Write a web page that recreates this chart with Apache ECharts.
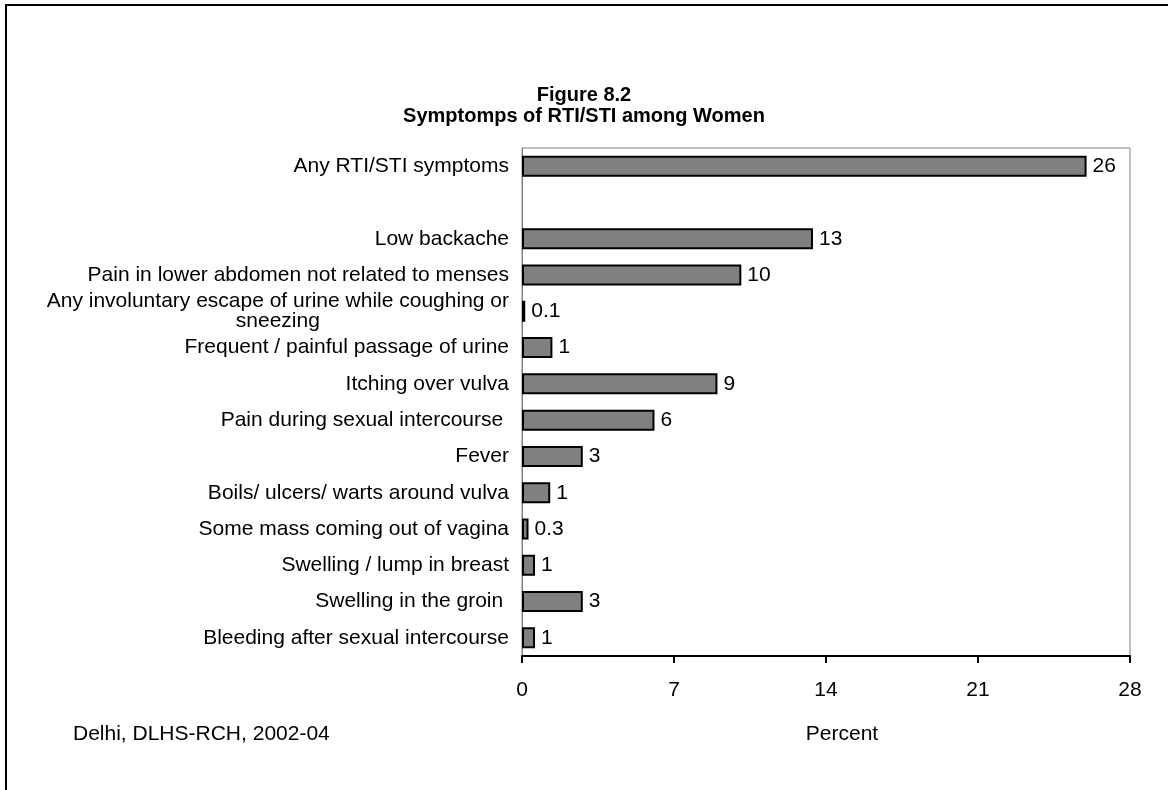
<!DOCTYPE html>
<html>
<head>
<meta charset="utf-8">
<script src="https://cdn.jsdelivr.net/npm/echarts@6/dist/echarts.min.js"></script>
<style>
html,body{margin:0;padding:0;background:#fff;}
#chart{width:1168px;height:790px;}
</style>
</head>
<body>
<div id="chart"></div>
<script>
var categories = [
  'Any RTI/STI symptoms',
  '',
  'Low backache',
  'Pain in lower abdomen not related to menses',
  'Any involuntary escape of urine while coughing or sneezing',
  'Frequent / painful passage of urine',
  'Itching over vulva',
  'Pain during sexual intercourse ',
  'Fever',
  'Boils/ ulcers/ warts around vulva',
  'Some mass coming out of vagina',
  'Swelling / lump in breast',
  'Swelling in the groin ',
  'Bleeding after sexual intercourse'
];
var values = [26, null, 13.4, 10.1, 0.15, 1.4, 9.0, 6.1, 2.8, 1.3, 0.3, 0.6, 2.8, 0.6];
var valueLabels = ['26', '', '13', '10', '0.1', '1', '9', '6', '3', '1', '0.3', '1', '3', '1'];
var xTicks = [0, 7, 14, 21, 28];

var FONT = '"Liberation Sans", Arial, sans-serif';
var chart = echarts.init(document.getElementById('chart'), null, {renderer: 'canvas'});

var option = {
  backgroundColor: '#ffffff',
  animation: false,
  grid: {
    left: 522, right: 38, top: 148, bottom: 134,
    show: true, borderColor: '#808080', borderWidth: 1, backgroundColor: 'transparent'
  },
  xAxis: {
    type: 'value',
    min: xTicks[0],
    max: xTicks[xTicks.length - 1],
    interval: 7,
    splitLine: {show: false},
    axisLine: {show: true, lineStyle: {color: '#000', width: 2}},
    axisTick: {show: true, inside: false, length: 7, lineStyle: {color: '#000', width: 2}},
    axisLabel: {show: true, margin: 24, color: '#000', fontSize: 21, fontFamily: FONT}
  },
  yAxis: {
    type: 'category',
    inverse: true,
    data: categories,
    axisLine: {show: true, lineStyle: {color: '#808080', width: 1}},
    axisTick: {show: false},
    axisLabel: {
      margin: 13,
      color: '#000',
      fontSize: 21,
      fontFamily: FONT,
      lineHeight: 20,
      interval: 0,
      formatter: function (v) {
        var key = ' sneezing';
        if (v.indexOf(key) > 0 && v.length > 50) {
          return '{a|' + v.slice(0, v.length - key.length) + '}\n{b|sneezing}';
        }
        return v;
      },
      rich: {
        a: {fontSize: 21, fontFamily: FONT, color: '#000', lineHeight: 20},
        b: {fontSize: 21, fontFamily: FONT, color: '#000', lineHeight: 20, align: 'center'}
      }
    }
  },
  series: [{
    type: 'bar',
    data: values,
    barWidth: 21,
    itemStyle: {color: '#808080', borderColor: '#000', borderWidth: 2},
    label: {
      show: true,
      position: 'right',
      distance: 6,
      color: '#000',
      fontSize: 21,
      fontFamily: FONT,
      formatter: function (p) { return valueLabels[p.dataIndex]; }
    }
  }],
  graphic: [
    {
      type: 'rect', silent: true,
      shape: {x: 6, y: 5, width: 1300, height: 1000},
      style: {fill: 'none', stroke: '#000', lineWidth: 2}
    },
    {
      type: 'text', x: 584, y: 95,
      style: {text: 'Figure 8.2', font: 'bold 20px ' + FONT, fill: '#000',
        textAlign: 'center', textVerticalAlign: 'middle', align: 'center', verticalAlign: 'middle'}
    },
    {
      type: 'text', x: 584, y: 116,
      style: {text: 'Symptomps of RTI/STI among Women', font: 'bold 20px ' + FONT, fill: '#000',
        textAlign: 'center', textVerticalAlign: 'middle', align: 'center', verticalAlign: 'middle'}
    },
    {
      type: 'text', x: 842, y: 734,
      style: {text: 'Percent', font: '21px ' + FONT, fill: '#000',
        textAlign: 'center', textVerticalAlign: 'middle', align: 'center', verticalAlign: 'middle'}
    },
    {
      type: 'text', x: 73, y: 734,
      style: {text: 'Delhi, DLHS-RCH, 2002-04', font: '21px ' + FONT, fill: '#000',
        textAlign: 'left', textVerticalAlign: 'middle', align: 'left', verticalAlign: 'middle'}
    }
  ]
};
chart.setOption(option);
</script>
</body>
</html>
